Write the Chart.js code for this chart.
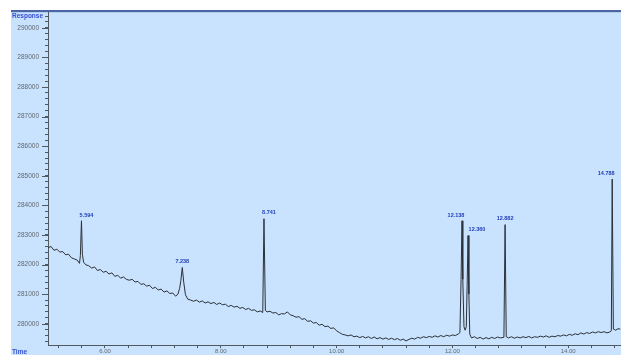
<!DOCTYPE html>
<html lang="en">
  <head>
    <meta charset="UTF-8" />
    <title>Chromatogram</title>
    <style>
      body {
        margin: 0;
        padding: 0;
        background-color: #ffffff;
        overflow: hidden;
      }
      #chart {
        display: block;
      }
    </style>
  </head>
  <body>
    <canvas id="chart" width="621" height="355"></canvas>

    <script src="https://cdn.jsdelivr.net/npm/chart.js@4.4.1/dist/chart.umd.min.js"></script>
    <script>
      // retention time (min) and detector response
      const times = [
        5.02, 5.07, 5.12, 5.17, 5.22, 5.27, 5.32, 5.37, 5.42, 5.47, 5.52, 5.56,
        5.575, 5.594, 5.61, 5.63, 5.67, 5.72, 5.77, 5.82, 5.87, 5.92, 5.97,
        6.02, 6.07, 6.12, 6.17, 6.22, 6.27, 6.32, 6.37, 6.42, 6.47, 6.52, 6.57,
        6.62, 6.67, 6.72, 6.77, 6.82, 6.87, 6.92, 6.97, 7.02, 7.07, 7.12, 7.17,
        7.22, 7.26, 7.29, 7.31, 7.335, 7.36, 7.39, 7.43, 7.48, 7.53, 7.58,
        7.63, 7.68, 7.73, 7.78, 7.83, 7.88, 7.93, 7.98, 8.03, 8.08, 8.13, 8.18,
        8.23, 8.28, 8.33, 8.38, 8.43, 8.48, 8.53, 8.58, 8.63, 8.68, 8.725,
        8.746, 8.77, 8.8, 8.85, 8.9, 8.95, 9.0, 9.05, 9.1, 9.15, 9.2, 9.25,
        9.3, 9.35, 9.4, 9.45, 9.5, 9.55, 9.6, 9.65, 9.7, 9.75, 9.8, 9.85, 9.9,
        9.95, 10.0, 10.05, 10.1, 10.15, 10.2, 10.25, 10.3, 10.35, 10.4, 10.45,
        10.5, 10.55, 10.6, 10.65, 10.7, 10.75, 10.8, 10.85, 10.9, 10.95, 11.0,
        11.05, 11.1, 11.15, 11.2, 11.25, 11.3, 11.35, 11.4, 11.45, 11.5, 11.55,
        11.6, 11.65, 11.7, 11.75, 11.8, 11.85, 11.9, 11.95, 12.0, 12.05, 12.1,
        12.13, 12.15, 12.166, 12.18, 12.2, 12.22, 12.24, 12.255, 12.27, 12.285,
        12.3, 12.33, 12.38, 12.43, 12.48, 12.53, 12.58, 12.63, 12.68, 12.73,
        12.78, 12.83, 12.89, 12.91, 12.93, 12.97, 13.02, 13.07, 13.12, 13.17,
        13.22, 13.27, 13.32, 13.37, 13.42, 13.47, 13.52, 13.57, 13.62, 13.67,
        13.72, 13.77, 13.82, 13.87, 13.92, 13.97, 14.02, 14.07, 14.12, 14.17,
        14.22, 14.27, 14.32, 14.37, 14.42, 14.47, 14.52, 14.57, 14.62, 14.67,
        14.72, 14.745, 14.76, 14.78, 14.82, 14.86, 14.9,
      ];
      const responses = [
        282570, 282610, 282480, 282520, 282420, 282440, 282330, 282350, 282230,
        282190, 282150, 282040, 282300, 283480, 282350, 282080, 281990, 281960,
        281880, 281920, 281800, 281830, 281740, 281770, 281680, 281720, 281600,
        281640, 281540, 281580, 281500, 281470, 281500, 281410, 281430, 281330,
        281350, 281270, 281300, 281190, 281230, 281140, 281170, 281070, 281110,
        281020, 281040, 280930, 281000, 281200, 281450, 281900, 281400, 280980,
        280830, 280800, 280760, 280800, 280730, 280770, 280700, 280740, 280680,
        280720, 280650, 280700, 280640, 280660, 280580, 280620, 280560, 280590,
        280520, 280550, 280480, 280520, 280450, 280470, 280400, 280430, 280380,
        283550, 280450, 280400, 280420, 280360, 280380, 280300, 280340, 280330,
        280400, 280300, 280270, 280220, 280240, 280150, 280170, 280080, 280100,
        280020, 280040, 279950, 279980, 279900, 279920, 279840, 279860, 279760,
        279700, 279640, 279620, 279590, 279620, 279560, 279580, 279530, 279570,
        279520, 279560, 279500, 279550, 279490, 279530, 279480, 279520, 279470,
        279510, 279460, 279500, 279440, 279480, 279420, 279470, 279510, 279480,
        279540, 279510, 279560, 279530, 279570, 279540, 279590, 279550, 279600,
        279560, 279610, 279580, 279620, 279600, 279650, 279700, 281500, 283480,
        281500, 279900, 279780, 279900, 281300, 282980, 281000, 279650, 279520,
        279560, 279500, 279540, 279480, 279530, 279490, 279540, 279500, 279550,
        279520, 279540, 283350, 279560, 279520, 279560, 279510, 279550, 279520,
        279560, 279530, 279570, 279520, 279560, 279540, 279580, 279550, 279590,
        279540, 279580, 279560, 279600, 279580, 279620, 279590, 279640, 279610,
        279660, 279630, 279690, 279650, 279700, 279670, 279720, 279690, 279730,
        279700, 279730, 279690, 279720, 279760, 284890, 279820, 279780, 279830,
        279820,
      ];

      // integrated peaks: apex time, apex response, printed retention time
      const peakTimes = [5.594, 7.335, 8.746, 12.166, 12.27, 12.91, 14.76];
      const peakTops = [283480, 281900, 283550, 283480, 282980, 283350, 284890];
      const peakLabels = ["5.594", "7.238", "8.741", "12.138", "12.360", "12.882", "14.788"];

      const points = times.map((t, i) => ({ x: t, y: responses[i] }));

      const panelPlugin = {
        id: "panel",
        beforeDraw(chart) {
          const ctx = chart.ctx;
          ctx.save();
          ctx.fillStyle = "#ffffff";
          ctx.fillRect(0, 0, chart.width, chart.height);
          ctx.fillStyle = "#c9e2fd";
          ctx.fillRect(11, 11, chart.width - 11, chart.height - 11);
          ctx.fillStyle = "#4a66a3";
          ctx.fillRect(11, 10, chart.width - 11, 2);
          ctx.fillStyle = "#b3cdef";
          ctx.fillRect(11, 12, chart.width - 11, 1);
          ctx.restore();
        },
        afterDraw(chart) {
          const ctx = chart.ctx;
          const x = chart.scales.x;
          const y = chart.scales.y;
          ctx.save();

          // longer marks on the thousands
          ctx.strokeStyle = "#505860";
          ctx.lineWidth = 1;
          y.ticks.forEach((tk) => {
            if (Math.round(tk.value) % 1000 === 0) {
              const py = Math.round(y.getPixelForValue(tk.value)) + 0.5;
              ctx.beginPath();
              ctx.moveTo(y.right - 6, py);
              ctx.lineTo(y.right, py);
              ctx.stroke();
            }
          });

          // axis titles
          ctx.fillStyle = "#3550d0";
          ctx.font = "bold 6.5px Arial";
          ctx.textBaseline = "middle";
          ctx.textAlign = "left";
          ctx.fillText("Response", 12, 16);
          ctx.fillText("Time", 12, 352);

          // retention time labels over the peaks
          const shift = [5, 0, 5, -6, 9, 0, -6];
          ctx.fillStyle = "#2340b8";
          ctx.font = "bold 5.5px Arial";
          ctx.textAlign = "center";
          ctx.textBaseline = "bottom";
          peakTimes.forEach((t, i) => {
            const px = x.getPixelForValue(t) + shift[i];
            const py = y.getPixelForValue(peakTops[i]) - 3;
            ctx.fillText(peakLabels[i], px, py);
          });
          ctx.restore();
        },
      };

      const ctx = document.getElementById("chart").getContext("2d");
      new Chart(ctx, {
        type: "line",
        data: {
          datasets: [
            {
              label: "TIC",
              data: points,
              borderColor: "#2b3138",
              borderWidth: 1,
              pointRadius: 0,
              tension: 0,
              fill: false,
            },
          ],
        },
        options: {
          responsive: false,
          animation: false,
          devicePixelRatio: 1,
          layout: { padding: { top: 12, left: 0, right: 0, bottom: 0 } },
          plugins: {
            legend: { display: false },
            tooltip: { enabled: false },
          },
          scales: {
            x: {
              type: "linear",
              min: 5.016,
              max: 14.912,
              afterFit(scale) {
                scale.height = 8;
              },
              border: { display: true, color: "#505860", width: 1 },
              grid: {
                drawOnChartArea: false,
                drawTicks: true,
                tickLength: 3,
                tickColor: "#505860",
              },
              ticks: {
                stepSize: 0.4,
                includeBounds: false,
                autoSkip: false,
                maxRotation: 0,
                minRotation: 0,
                padding: 0,
                color: "#606870",
                font: { family: "Arial", size: 6 },
                callback(v) {
                  const h = v / 2;
                  return Math.abs(h - Math.round(h)) < 1e-6 ? v.toFixed(2) : "";
                },
              },
            },
            y: {
              min: 279277,
              max: 290538,
              afterFit(scale) {
                scale.width = 48;
              },
              border: { display: true, color: "#505860", width: 1 },
              grid: {
                drawOnChartArea: false,
                drawTicks: true,
                tickLength: 3,
                tickColor: "#505860",
              },
              ticks: {
                stepSize: 200,
                includeBounds: false,
                autoSkip: false,
                padding: 6,
                color: "#606870",
                font: { family: "Arial", size: 6.5 },
                callback(v) {
                  return Math.round(v) % 1000 === 0 ? String(Math.round(v)) : "";
                },
              },
            },
          },
        },
        plugins: [panelPlugin],
      });
    </script>
  </body>
</html>
